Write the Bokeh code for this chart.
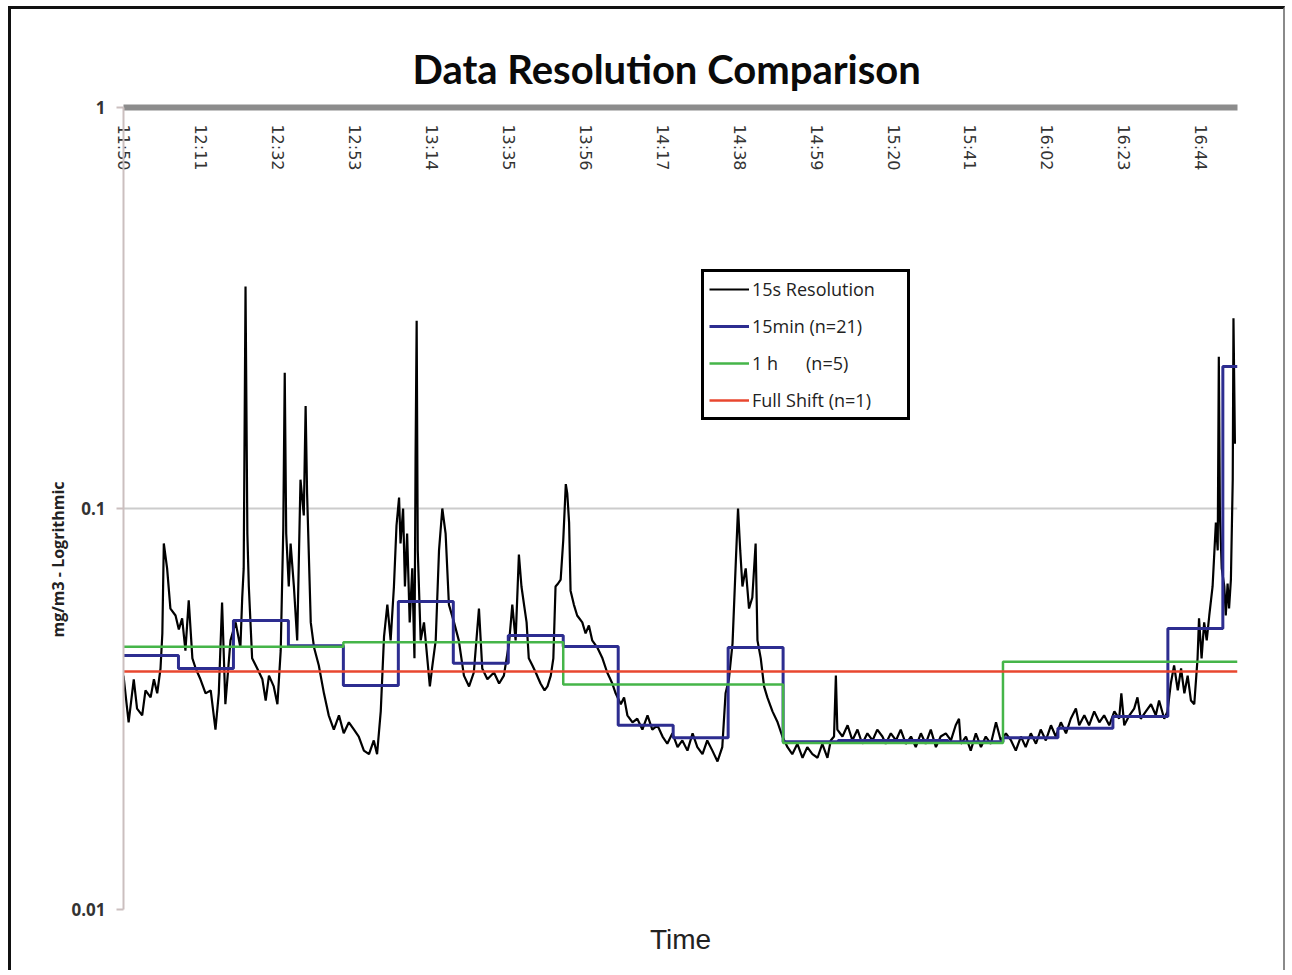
import math
from bokeh.plotting import figure
from bokeh.models import (Range1d, FixedTicker, LinearAxis, Legend, LegendItem,
                          CustomJSTickFormatter, Title)
from bokeh.embed import file_html
from bokeh.resources import INLINE

# ---------------- data ----------------
title_text = "Data Resolution Comparison"
y_label = "mg/m3 - Logrithmic"
x_label = "Time"
start_time = "11:50"
end_time = "16:54"
tick_labels = ["11:50", "12:11", "12:32", "12:53", "13:14", "13:35", "13:56", "14:17",
               "14:38", "14:59", "15:20", "15:41", "16:02", "16:23", "16:44"]
y_ticks = [0.01, 0.1, 1]

series_names = ["15s Resolution", "15min (n=21)", "1 h\u00a0\u00a0\u00a0\u00a0\u00a0\u00a0(n=5)", "Full Shift (n=1)"]

# 15 s resolution trace: minutes after 11:50, mg/m3
res15s_min = [
    0.0, 1.4, 2.8, 3.7, 5.1, 6.0, 7.4, 8.3, 9.2, 10.1, 10.6, 11.0, 11.9, 12.8, 14.2, 15.1,
    16.0, 16.9, 17.8, 18.8, 19.7, 21.0, 22.4, 23.8, 25.1, 26.0, 26.9, 27.8, 29.2, 30.6, 31.9,
    32.4, 32.8, 33.3, 33.8, 34.2, 35.1, 36.5, 37.9, 38.8, 39.7, 41.0, 42.0, 42.9, 43.6, 44.0,
    44.4, 45.1, 45.6, 46.5, 47.4, 48.3, 49.2, 49.7, 50.1, 51.1, 52.0, 53.3, 54.7, 56.0, 57.4,
    58.8, 60.1, 61.5, 62.9, 64.2, 65.6, 67.0, 68.3, 69.2, 70.2, 71.1, 72.0, 72.9, 73.8, 74.5,
    75.2, 75.6, 76.3, 76.8, 77.4, 78.1, 78.8, 79.4, 79.7, 80.0, 80.3, 81.1, 82.0, 82.9, 83.6,
    84.3, 85.2, 86.1, 87.0, 87.9, 88.8, 90.2, 91.5, 92.9, 94.3, 95.6, 97.0, 97.9, 99.3, 101.1,
    102.5, 103.8, 105.2, 105.7, 106.1, 107.0, 107.9, 108.6, 109.3, 110.0, 110.6, 111.6, 112.5,
    113.8, 114.9, 115.7, 116.6, 117.3, 117.9, 118.6, 119.3, 120.0, 120.7, 121.1, 121.6, 122.0,
    122.9, 123.8, 125.2, 126.1, 127.0, 127.9, 129.3, 130.7, 132.0, 133.4, 134.3, 135.7, 136.6,
    137.5, 138.9, 140.2, 141.6, 143.0, 144.3, 145.7, 147.1, 148.4, 149.8, 151.2, 152.5, 153.9,
    155.3, 156.6, 158.0, 159.3, 160.7, 162.1, 163.4, 164.3, 165.2, 166.2, 167.1, 167.7, 168.3,
    168.9, 169.8, 170.7, 171.6, 172.5, 173.0, 173.9, 174.8, 175.7, 177.1, 178.5, 179.8, 181.2,
    182.5, 183.9, 185.3, 186.6, 188.0, 189.4, 190.7, 192.1, 193.0, 193.9, 194.4, 194.8, 196.2,
    197.6, 198.9, 200.3, 201.6, 203.0, 204.4, 205.7, 207.1, 208.0, 209.4, 210.8, 212.1, 213.5,
    214.9, 216.2, 217.6, 218.9, 220.3, 221.7, 223.0, 224.4, 225.8, 227.1, 228.0, 228.5, 229.9,
    231.2, 232.6, 234.0, 235.3, 236.7, 238.1, 239.4, 240.8, 242.2, 243.5, 244.9, 246.2, 247.6,
    249.0, 250.3, 251.7, 253.1, 254.4, 255.8, 257.2, 258.5, 259.9, 260.8, 262.2, 263.5, 264.9,
    266.3, 267.6, 269.0, 270.4, 271.7, 272.3, 273.1, 274.5, 275.8, 276.7, 277.6, 279.0, 280.4,
    281.7, 282.6, 284.0, 284.9, 285.8, 286.7, 287.7, 288.6, 289.5, 290.4, 291.3, 292.2, 293.1,
    293.5, 294.2, 294.9, 295.6, 296.3, 297.2, 298.1, 298.6, 298.9, 299.2, 299.7, 300.4, 300.8,
    301.3, 301.7, 302.2, 302.7, 302.9, 303.3]
res15s_val = [
    0.0383, 0.0293, 0.0375, 0.0317, 0.0305, 0.0352, 0.0338, 0.0375, 0.0346, 0.0399, 0.0488,
    0.0818, 0.0709, 0.0563, 0.0541, 0.0499, 0.0532, 0.0442, 0.0590, 0.0423, 0.0399, 0.0375,
    0.0346, 0.0352, 0.0281, 0.0346, 0.0583, 0.0325, 0.0469, 0.0520, 0.0450, 0.0600, 0.0709,
    0.358, 0.0866, 0.0639, 0.0423, 0.0399, 0.0375, 0.0332, 0.0383, 0.0360, 0.0325, 0.0442,
    0.0886, 0.218, 0.0866, 0.0639, 0.0818, 0.0639, 0.0469, 0.118, 0.0961, 0.180, 0.109,
    0.0520, 0.0450, 0.0406, 0.0346, 0.0305, 0.0281, 0.0305, 0.0275, 0.0293, 0.0281, 0.0270,
    0.0249, 0.0244, 0.0264, 0.0244, 0.0312, 0.0480, 0.0576, 0.0469, 0.0639, 0.0907, 0.1065,
    0.0818, 0.100, 0.0639, 0.0866, 0.0520, 0.0709, 0.0423, 0.133, 0.294, 0.0786, 0.0469,
    0.0520, 0.0423, 0.0360, 0.0406, 0.0469, 0.0786, 0.100, 0.0866, 0.0576, 0.0520, 0.0469,
    0.0383, 0.0360, 0.0390, 0.0563, 0.0399, 0.0375, 0.0390, 0.0366, 0.0383, 0.0461, 0.0520,
    0.0576, 0.0469, 0.0768, 0.0639, 0.0576, 0.0520, 0.0423, 0.0406, 0.0390, 0.0366, 0.0352,
    0.0360, 0.0383, 0.0423, 0.0639, 0.0650, 0.0665, 0.0832, 0.115, 0.109, 0.0923, 0.0624,
    0.0576, 0.0541, 0.0520, 0.0488, 0.0511, 0.0469, 0.0450, 0.0423, 0.0390, 0.0366, 0.0346,
    0.0325, 0.0338, 0.0305, 0.0293, 0.0299, 0.0281, 0.0305, 0.0281, 0.0288, 0.0270, 0.0259,
    0.0275, 0.0254, 0.0264, 0.0249, 0.0275, 0.0254, 0.0244, 0.0264, 0.0249, 0.0234, 0.0254,
    0.0346, 0.0375, 0.0461, 0.0738, 0.100, 0.0786, 0.0639, 0.0709, 0.0563, 0.0600, 0.0818,
    0.0469, 0.0423, 0.0360, 0.0338, 0.0312, 0.0293, 0.0270, 0.0254, 0.0244, 0.0259, 0.0239,
    0.0254, 0.0244, 0.0239, 0.0259, 0.0239, 0.0264, 0.0270, 0.0383, 0.0281, 0.0270, 0.0288,
    0.0264, 0.0281, 0.0259, 0.0275, 0.0264, 0.0281, 0.0270, 0.0259, 0.0275, 0.0264, 0.0281,
    0.0259, 0.0270, 0.0254, 0.0275, 0.0259, 0.0281, 0.0254, 0.0270, 0.0275, 0.0264, 0.0288,
    0.0299, 0.0259, 0.0270, 0.0249, 0.0275, 0.0254, 0.0270, 0.0259, 0.0293, 0.0264, 0.0275,
    0.0264, 0.0249, 0.0270, 0.0254, 0.0275, 0.0259, 0.0281, 0.0264, 0.0288, 0.0270, 0.0293,
    0.0275, 0.0299, 0.0317, 0.0288, 0.0305, 0.0288, 0.0312, 0.0293, 0.0305, 0.0288, 0.0312,
    0.0299, 0.0346, 0.0288, 0.0305, 0.0317, 0.0338, 0.0299, 0.0312, 0.0325, 0.0305, 0.0332,
    0.0299, 0.0312, 0.0366, 0.0406, 0.0352, 0.0399, 0.0346, 0.0383, 0.0332, 0.0325, 0.0423,
    0.0532, 0.0423, 0.0520, 0.0469, 0.0541, 0.0639, 0.0923, 0.0786, 0.239, 0.0961, 0.0709,
    0.0639, 0.0541, 0.0650, 0.0563, 0.0665, 0.118, 0.298, 0.145]

# 15-minute averages (window start, minutes after 11:50)
avg15_start = [0, 15, 30, 45, 60, 75, 90, 105, 120, 135, 150, 165, 180, 195, 210, 225,
               240, 255, 270, 285, 300]
avg15_val = [0.0430, 0.0399, 0.0526, 0.0455, 0.0362, 0.0586, 0.0411, 0.0482, 0.0453,
             0.0288, 0.0268, 0.0450, 0.0262, 0.0264, 0.0264, 0.0262, 0.0268, 0.0283,
             0.0303, 0.0502, 0.226]

# 1-hour averages
avg1h_start = [0, 60, 120, 180, 240]
avg1h_val = [0.0452, 0.0464, 0.0364, 0.0260, 0.0415]

# full shift average
shift_val = 0.0392

colors = ["#000000", "#2d2d90", "#45b549", "#e8472f"]


def to_min(s):
    h, m = s.split(":")
    h0, m0 = start_time.split(":")
    return (int(h) * 60 + int(m)) - (int(h0) * 60 + int(m0))


x_end = to_min(end_time)
tick_pos = [to_min(t) for t in tick_labels]

# ---------------- figure ----------------
p = figure(width=1277, height=964, output_backend="svg", toolbar_location=None,
           x_axis_location="above", y_axis_type="log",
           x_range=Range1d(0, x_end), y_range=Range1d(y_ticks[0], y_ticks[-1]),
           min_border_left=112, min_border_right=51, min_border_top=98, min_border_bottom=64)
p.styles = {"margin-left": "8px", "margin-top": "6px",
            "border-left": "3px solid #111", "border-top": "3px solid #111",
            "border-right": "2px solid #8a8a8a"}
p.outline_line_color = None
p.background_fill_color = "white"
p.border_fill_color = "white"

p.title.text = title_text
p.title.align = "left"
p.title.offset = 289
p.title.standoff = 30
p.title.text_font = "Lato"
p.title.text_font_size = "40px"
p.title.text_font_style = "bold"
p.title.text_color = "#0a0a0a"

# top axis: thick gray line, time labels hanging inside the plot
top = p.xaxis[0]
top.ticker = FixedTicker(ticks=tick_pos)
top.major_label_overrides = {pos: lab for pos, lab in zip(tick_pos, tick_labels)}
top.axis_line_color = "#8c8c8c"
top.axis_line_width = 6
top.major_tick_line_color = None
top.major_tick_out = 0
top.major_tick_in = 0
top.minor_tick_line_color = None
top.major_label_orientation = -math.pi / 2
top.major_label_standoff = -63
top.major_label_text_font = "DejaVu Sans"
top.major_label_text_font_size = "16px"
top.major_label_text_color = "#333333"

# bottom axis carrying only the "Time" label
bottom = LinearAxis(ticker=FixedTicker(ticks=[]), axis_label=x_label)
bottom.axis_line_color = None
bottom.major_tick_line_color = None
bottom.minor_tick_line_color = None
bottom.major_label_text_font_size = "0px"
bottom.axis_label_text_font = "Liberation Sans"
bottom.axis_label_text_font_size = "28px"
bottom.axis_label_text_font_style = "normal"
bottom.axis_label_text_color = "#222222"
bottom.axis_label_standoff = 14
p.add_layout(bottom, "below")

# y axis
ya = p.yaxis[0]
ya.ticker = FixedTicker(ticks=y_ticks)
ya.formatter = CustomJSTickFormatter(code="return tick.toString();")
ya.axis_line_color = "#cbbfbf"
ya.axis_line_width = 2
ya.major_tick_line_color = "#cbbfbf"
ya.major_tick_line_width = 2
ya.major_tick_out = 7
ya.major_tick_in = 0
ya.minor_tick_line_color = None
ya.major_label_text_font = "Open Sans"
ya.major_label_text_font_size = "17px"
ya.major_label_text_font_style = "bold"
ya.major_label_text_color = "#333333"
ya.major_label_standoff = 11

# y axis title, placed a little below the middle as in the original
ylab = Title(text=y_label, align="left", offset=272, standoff=0,
             text_font="Open Sans", text_font_size="16px", text_font_style="bold",
             text_color="#222222")
p.add_layout(ylab, "left")

p.xgrid.visible = False
p.ygrid.ticker = FixedTicker(ticks=y_ticks)
p.ygrid.grid_line_color = "#cccccc"
p.ygrid.grid_line_width = 2
p.ygrid.minor_grid_line_color = None

# series
r0 = p.line(res15s_min, res15s_val, line_color=colors[0], line_width=2.2)
r1 = p.step(avg15_start + [x_end], avg15_val + [avg15_val[-1]], mode="after",
            line_color=colors[1], line_width=3)
r2 = p.step(avg1h_start + [x_end], avg1h_val + [avg1h_val[-1]], mode="after",
            line_color=colors[2], line_width=2.5)
r3 = p.line([0, x_end], [shift_val, shift_val], line_color=colors[3], line_width=2.5)

legend = Legend(items=[LegendItem(label=series_names[i], renderers=[r])
                       for i, r in enumerate([r0, r1, r2, r3])],
                location=(578, 489))
legend.border_line_color = "black"
legend.border_line_alpha = 1
legend.border_line_width = 3
legend.background_fill_color = "white"
legend.background_fill_alpha = 1
legend.label_text_font = "Open Sans"
legend.label_text_font_size = "18px"
legend.label_text_color = "#222222"
legend.glyph_width = 40
legend.glyph_height = 20
legend.label_height = 20
legend.label_width = 150
legend.spacing = 13
legend.padding = 5
legend.margin = 0
legend.label_standoff = 3
p.add_layout(legend)

open("out.html", "w").write(file_html(p, INLINE))
